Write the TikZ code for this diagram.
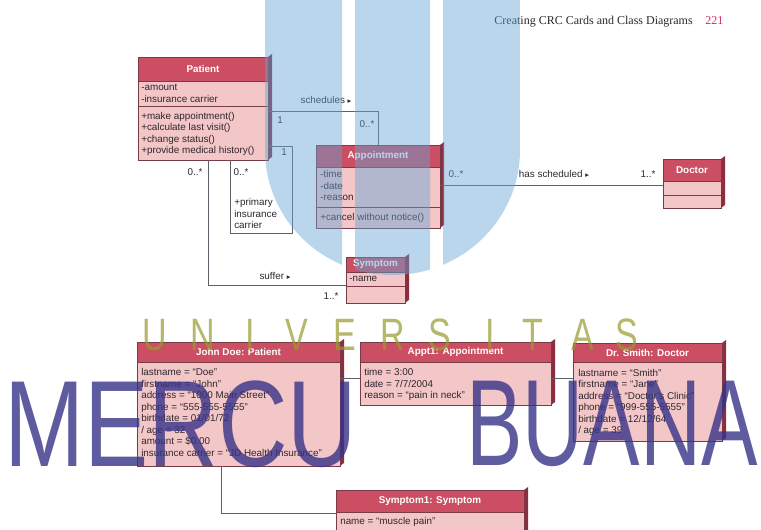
\documentclass[tikz,border=0pt]{standalone}
\usepackage{fontspec}
\setmainfont{Liberation Sans}
\newfontfamily\serifhead{Liberation Serif}
\newfontfamily\symfont{DejaVu Sans}
\usetikzlibrary{fit}
\definecolor{titlered}{RGB}{203,78,98}
\definecolor{boxpink}{RGB}{243,198,200}
\definecolor{depthred}{RGB}{140,45,65}
\definecolor{boxedge}{RGB}{120,60,70}
\definecolor{linegray}{RGB}{95,95,105}
\definecolor{textdark}{RGB}{45,40,45}
\definecolor{logoblue}{RGB}{100,165,215}
\definecolor{univolive}{RGB}{150,155,45}
\definecolor{mercunavy}{RGB}{55,50,135}
\definecolor{pagered}{RGB}{205,50,85}
\newcommand\dfont{\fontsize{7.4}{8.6}\selectfont}
\newcommand\arr{{\symfont\fontsize{5.5}{6}\selectfont ▸}}
\tikzset{
 boxbody/.style={draw=boxedge, fill=boxpink, line width=0.5pt, inner sep=0pt, outer sep=0pt},
 ttl/.style={text=white, font=\dfont\bfseries, inner sep=0pt},
 attr/.style={anchor=west, inner sep=0pt, font=\dfont, text=textdark, text height=5.4pt, text depth=1.6pt},
 lbl/.style={inner sep=0pt, font=\dfont, text=textdark, text height=5.4pt, text depth=1.6pt},
 conn/.style={draw=linegray, line width=0.6pt},
 sepline/.style={draw=boxedge, line width=0.5pt},
 univ/.style={inner sep=0pt, font=\fontsize{34}{34}\selectfont, text=univolive, opacity=0.7},
 mercu/.style={inner sep=0pt, font=\fontsize{92}{92}\selectfont, text=mercunavy, opacity=0.8},
 hdr/.style={inner sep=0pt, font=\serifhead\fontsize{9}{10}\selectfont},
}
\newcommand\umlbox[7]{%
 \fill[depthred] (#4,#3) -- ({#4+4},{#3-3}) -- ({#4+4},{#5-3}) -- (#4,#5) -- cycle;
 \node[boxbody, fit={(#2,#3) (#4,#5)}] (#1) {};
 \fill[titlered] (#2,#3) rectangle (#4,#6);
 \draw[sepline] (#2,#6) -- (#4,#6);
 \draw[boxedge, line width=0.5pt] (#1.north west) rectangle (#1.south east);
 \node[ttl] (#1-t) at ({(#2+#4)/2},{(#3+#6)/2}) {#7};
}
\newcommand\rows[5]{%
 \foreach \t [count=\i] in {#5} {\node[attr] (#1-\i) at (#2,{#3+(\i-1)*#4}) {\t};}
}
\begin{document}
\begin{tikzpicture}[x=0.75pt,y=-0.75pt]
\fill[white] (0,0) rectangle (761,530);
\useasboundingbox (0,0) rectangle (761,530);

% header
\node[hdr, anchor=base east, text=textdark] (hd) at (693,25) {Creating CRC Cards and Class Diagrams};
\node[hdr, anchor=base west, text=pagered] (pg) at (705,25) {221};

% class diagram
\umlbox{patient}{138}{57}{268}{160}{81}{Patient}
\draw[sepline] (138,106) -- (268,106);
\rows{pa}{141}{88}{11.5}{{-amount},{-insurance carrier}}
\rows{pm}{141}{116.5}{11.5}{{+make appointment()},{+calculate last visit()},{+change status()},{+provide medical history()}}

\umlbox{appointment}{316}{145}{440}{228}{167}{Appointment}
\draw[sepline] (316,207) -- (440,207);
\rows{aa}{320}{175}{11.5}{{-time},{-date},{-reason}}
\rows{am}{320}{217.5}{11.5}{{+cancel without notice()}}

\umlbox{doctor}{663}{159}{721}{208}{181}{Doctor}
\draw[sepline] (663,195) -- (721,195);

\umlbox{symptom}{346}{257}{405}{303}{272}{Symptom}
\draw[sepline] (346,286) -- (405,286);
\rows{sa}{349}{279}{11.5}{{-name}}

% associations
\coordinate (sch) at (378,111);
\draw[conn] (patient.east |- sch) -- (sch) -- (appointment.north);
\node[lbl] (l-sch) at (326,101) {schedules \arr};
\node[lbl] (l-sch1) at (280,121) {1};
\node[lbl] (l-sch2) at (367,125) {0..*};

\coordinate (rf1) at (292,146);
\coordinate (rf2) at (292,233);
\coordinate (rf3) at (230,233);
\draw[conn] (patient.east |- rf1) -- (rf1) -- (rf2) -- (rf3) -- (rf3 |- patient.south);
\node[lbl] (l-rf1) at (284,153) {1};
\node[lbl] (l-rf2) at (241,173) {0..*};
\rows{rl}{234}{203}{11.5}{{+primary},{insurance},{carrier}}

\coordinate (sf) at (208,285);
\draw[conn] (sf |- patient.south) -- (sf) -- (sf -| symptom.west);
\node[lbl] (l-sf1) at (195,173) {0..*};
\node[lbl] (l-sf) at (275,277) {suffer \arr};
\node[lbl] (l-sf2) at (331,297) {1..*};

\coordinate (hs) at (0,185);
\draw[conn] (appointment.east |- hs) -- (hs -| doctor.west);
\node[lbl] (l-hs1) at (456,175) {0..*};
\node[lbl] (l-hs) at (554,175) {has scheduled \arr};
\node[lbl] (l-hs2) at (648,175) {1..*};

% object diagram
\umlbox{johndoe}{137}{342}{340}{466}{362}{John Doe: Patient}
\rows{jd}{141}{373}{11.5}{{lastname = “Doe”},{firstname = “John”},{address = “1000 Main Street”},{phone = “555-555-5555”},{birthdate = 01/01/72},{/ age = 32},{amount = \$0.00},{insurance carrier = “JD Health Insurance”}}

\umlbox{appt1}{360}{342}{551}{405}{362}{Appt1: Appointment}
\rows{ap}{364}{373}{11.5}{{time = 3:00},{date = 7/7/2004},{reason = “pain in neck”}}

\umlbox{drsmith}{573}{343}{722}{441}{362}{Dr. Smith: Doctor}
\rows{ds}{578}{373.5}{11.5}{{lastname = “Smith”},{firstname = “Jane”},{address = “Doctor’s Clinic”},{phone = “999-555-5555”},{birthdate = 12/12/64},{/ age = 39}}

\umlbox{symptom1}{336}{490}{524}{545}{512}{Symptom1: Symptom}
\rows{s1}{340}{522}{11.5}{{name = “muscle pain”}}

\coordinate (ol) at (0,378);
\draw[conn] (johndoe.east |- ol) -- (ol -| appt1.west);
\draw[conn] (appt1.east |- ol) -- (ol -| drsmith.west);
\coordinate (os) at (221,513);
\draw[conn] (os |- johndoe.south) -- (os) -- (os -| symptom1.west);

% watermark
\begin{scope}
\clip (265,0) -- (265,150) .. controls (265,219) and (322.1,275) .. (392.5,275) .. controls (462.9,275) and (520,219) .. (520,150) -- (520,0) -- cycle;
\fill[logoblue, opacity=0.45] (265,0) rectangle (342,280) (355,0) rectangle (430,280) (443,0) rectangle (520,280);
\end{scope}
\foreach \L/\X [count=\i] in {U/155,N/203,I/250,V/297,E/345,R/393,S/440,I/490,T/533,A/583,S/627} {\node[univ] (univ\i) at (\X,335) {\scalebox{0.75}[1]{\L}};}
\node[mercu] (wm1) at (181,424) {\scalebox{0.785}[1]{MERCU}};
\node[mercu] (wm2) at (612,424) {\scalebox{0.69}[1]{BUANA}};
\end{tikzpicture}
\end{document}
